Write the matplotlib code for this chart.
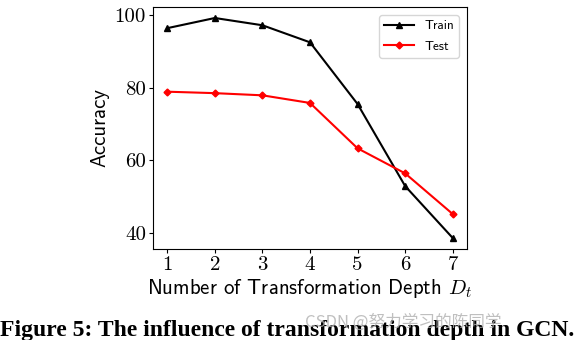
import matplotlib
matplotlib.use("Agg")
import matplotlib.pyplot as plt

plt.rcParams['mathtext.fontset'] = 'cm'

depth = [1, 2, 3, 4, 5, 6, 7]
train_acc = [96.4, 99.2, 97.2, 92.5, 75.5, 52.9, 38.6]
test_acc = [78.9, 78.5, 77.9, 75.8, 63.3, 56.4, 45.2]
yticks = [40, 60, 80, 100]
caption = "Figure 5: The influence of transformation depth in GCN."
watermark = "CSDN @努力学习的陈同学"

fig = plt.figure(figsize=(5.75, 3.4), dpi=100)
ax = fig.add_axes([153/575, 1-249/340, (467-153)/575, (249-7)/340])

ax.plot(depth, train_acc, color='black', marker='^', markersize=4, linewidth=1.5, label='Train')
ax.plot(depth, test_acc, color='red', marker='D', markersize=3.5, linewidth=1.5, label='Test')

ax.set_xticks(depth)
ax.set_xticklabels([str(d) for d in depth], fontfamily='cmr10', fontsize=15)
ax.set_yticks(yticks)
ax.set_yticklabels([str(v) for v in yticks], fontfamily='cmr10', fontsize=15)
ax.tick_params(length=3, pad=2)

ax.set_ylabel('Accuracy', fontfamily='cmss10', fontsize=15, labelpad=4)
ax.set_xlabel('Number of Transformation Depth $D_t$', fontfamily='cmss10', fontsize=15, labelpad=2)

leg = ax.legend(loc='upper right', prop={'family': 'cmss10', 'size': 9.5}, handlelength=2.2,
                borderaxespad=0.6, labelspacing=0.6)

fig.text(0.5, 4/340, caption, ha='center', va='baseline', fontfamily='Liberation Serif',
         fontweight='bold', fontsize=17)
fig.text(403/575, 1-322/340, watermark, ha='center', va='center', color='#b0b0b0', alpha=0.8,
         fontfamily=['Noto Sans CJK SC', 'DejaVu Sans'], fontsize=12)

fig.savefig('out.png', dpi=100)
